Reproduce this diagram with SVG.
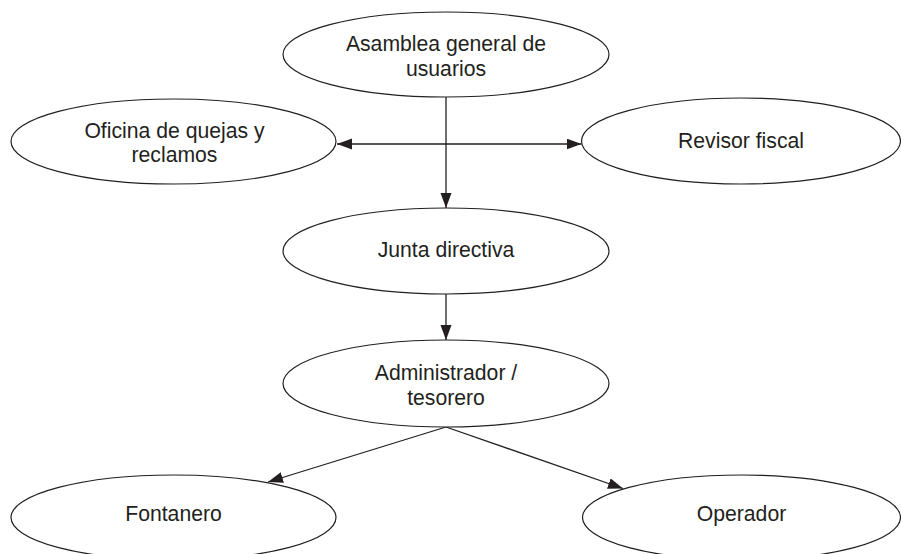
<svg xmlns="http://www.w3.org/2000/svg" width="901" height="554" viewBox="0 0 901 554">
<style>
.n ellipse{fill:#fff;stroke:#231f20;stroke-width:1.2}
.n text{font-family:"Liberation Sans",Arial,sans-serif;font-size:21.2px;fill:#231f20;text-anchor:middle}
.c line{stroke:#231f20;stroke-width:1.3;fill:none}
</style>
<defs>
<marker id="ah" markerUnits="userSpaceOnUse" markerWidth="16" markerHeight="12" refX="15" refY="5.5" orient="auto-start-reverse">
<path d="M0,0 L15,5.5 L0,11 z" fill="#231f20"/>
</marker>
</defs>
<rect width="901" height="554" fill="#fff"/>
<g class="c">
<line x1="446" y1="97" x2="446" y2="208" marker-end="url(#ah)"/>
<line x1="337" y1="144" x2="581.5" y2="144" marker-start="url(#ah)" marker-end="url(#ah)"/>
<line x1="446" y1="294" x2="446" y2="340" marker-end="url(#ah)"/>
<line x1="446" y1="427" x2="268" y2="482" marker-end="url(#ah)"/>
<line x1="446" y1="427" x2="623" y2="488.5" marker-end="url(#ah)"/>
</g>
<g id="asamblea" class="n">
<ellipse cx="446" cy="54.5" rx="163" ry="42.5"/>
<text x="446" y="51">Asamblea general de</text>
<text x="446" y="76">usuarios</text>
</g>
<g id="oficina" class="n">
<ellipse cx="173.5" cy="141.5" rx="162.5" ry="42.5"/>
<text x="174.5" y="137.5">Oficina de quejas y</text>
<text x="174.5" y="162">reclamos</text>
</g>
<g id="revisor" class="n">
<ellipse cx="741" cy="141" rx="159.5" ry="43"/>
<text x="741" y="148.3">Revisor fiscal</text>
</g>
<g id="junta" class="n">
<ellipse cx="446" cy="251" rx="163" ry="43"/>
<text x="446" y="257">Junta directiva</text>
</g>
<g id="administrador" class="n">
<ellipse cx="446" cy="383.5" rx="163" ry="43.5"/>
<text x="446" y="380">Administrador /</text>
<text x="446" y="404.5">tesorero</text>
</g>
<g id="fontanero" class="n">
<ellipse cx="173.5" cy="517.5" rx="162.5" ry="42.5"/>
<text x="173.5" y="520.5">Fontanero</text>
</g>
<g id="operador" class="n">
<ellipse cx="741.5" cy="517.5" rx="159" ry="42.5"/>
<text x="741.5" y="520.5">Operador</text>
</g>
</svg>
